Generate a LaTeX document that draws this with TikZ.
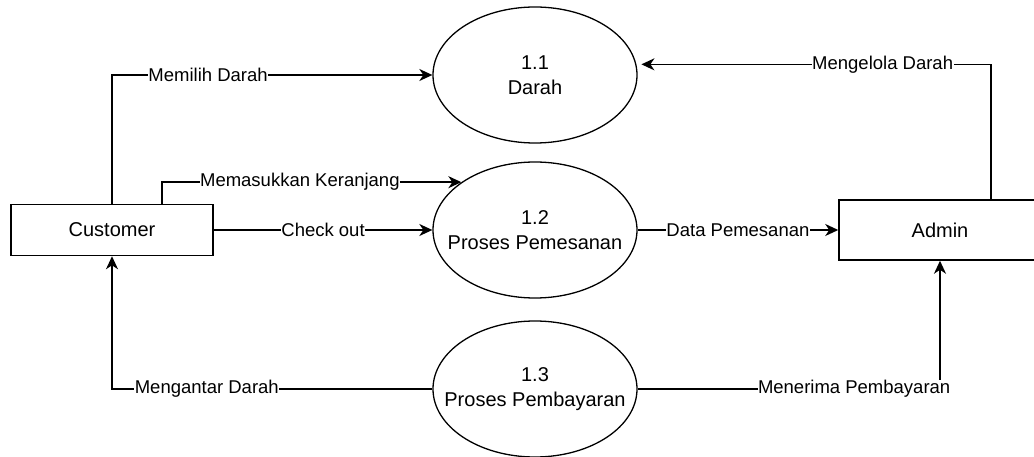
\documentclass[tikz,border=0pt]{standalone}
\usepackage{fontspec}
\setmainfont{Liberation Sans}
\usetikzlibrary{arrows.meta,calc,shapes.geometric}
\begin{document}
\begin{tikzpicture}[x=1pt,y=-1pt,
  entity/.style={draw, line width=1.5pt, minimum width=202pt, inner sep=0pt, font=\fontsize{20}{24}\selectfont},
  proc/.style={draw, ellipse, line width=1.3pt, minimum width=204pt, minimum height=136pt, inner xsep=-40pt, inner ysep=0pt, align=center, font=\fontsize{20}{25}\selectfont},
  flow/.style={draw, line width=1.6pt, -{Stealth[length=13pt,width=12pt,inset=4pt]}},
  lbl/.style={fill=white, inner sep=0.5pt, font=\fontsize{18.5}{22}\selectfont}
]
\useasboundingbox (0,0) rectangle (1034,457);
\clip (0,0) rectangle (1034,457);
\node[entity, minimum height=51pt] (cust) at (112,230) {Customer};
\node[entity, minimum height=60pt] (admin) at (940,230) {Admin};
\node[proc] (p11) at (535,75) {1.1\\Darah};
\node[proc] (p12) at (535,230) {1.2\\Proses Pemesanan};
\node[proc] (p13) at (535,389) {1.3\\Proses Pembayaran};

\draw[flow] (cust.north) |- node[lbl, pos=0.65] {Memilih Darah} (p11.west);
\draw[flow] ([xshift=152pt]cust.north west) |- node[lbl, pos=0.73] {Memasukkan Keranjang} (p12.147.5);
\draw[flow] (cust.east) -- node[lbl] {Check out} (p12.west);
\draw[flow] (p12.east) -- node[lbl] {Data Pemesanan} (admin.west);
\draw[flow, shorten >=5pt] ([xshift=153pt]admin.north west) |- node[lbl, pos=0.653] {Mengelola Darah} (p11.6.8);
\draw[flow] (p13.west) -| node[lbl, pos=0.352] {Mengantar Darah} (cust.south);
\draw[flow] (p13.east) -| node[lbl, pos=0.358] {Menerima Pembayaran} (admin.south);
\end{tikzpicture}
\end{document}
